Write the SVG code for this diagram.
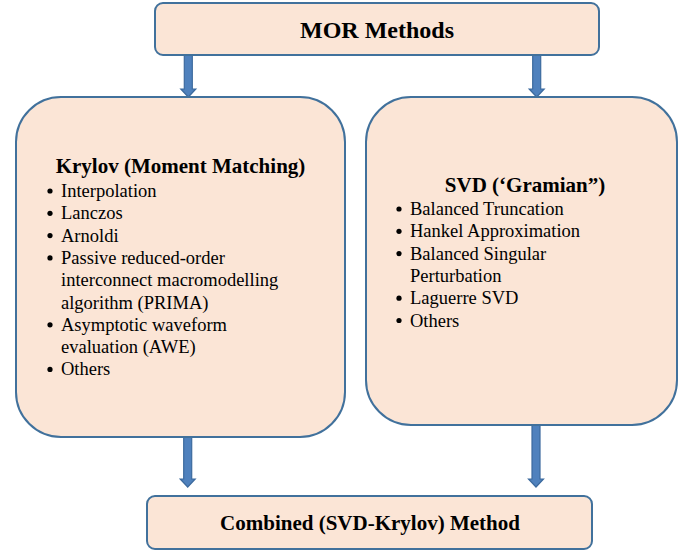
<svg xmlns="http://www.w3.org/2000/svg" width="684" height="552" viewBox="0 0 684 552">
<style>
.box{fill:#fbe5d6;stroke:#41719c;stroke-width:2}
.arr{fill:#4f81bd;stroke:#3c6a9e;stroke-width:1.2;stroke-linejoin:miter}
text{font-family:'Liberation Serif','DejaVu Serif',serif;fill:#000}
.h{font-weight:bold;text-anchor:middle}
.i{font-size:18.5px}
.b{fill:#000}
</style>
<rect width="684" height="552" fill="#fff"/>
<g id="connectors">
<polygon class="arr" points="184.3,55 192.3,55 192.3,89 195.8,89 188.3,97 180.8,89 184.3,89"/>
<polygon class="arr" points="532.7,55 540.7,55 540.7,89 544.2,89 536.7,97 529.2,89 532.7,89"/>
<polygon class="arr" points="183.7,437 191.7,437 191.7,479 195.2,479 187.7,487 180.2,479 183.7,479"/>
<polygon class="arr" points="532,425 540,425 540,479 543.5,479 536,487 528.5,479 532,479"/>
</g>
<g id="mor">
<rect class="box" x="155" y="3" width="444" height="52" rx="8"/>
<text class="h" x="377" y="38" font-size="24" font-family="Liberation Serif, serif">MOR Methods</text>
</g>
<g id="krylov">
<rect class="box" x="16" y="97" width="329" height="340" rx="45"/>
<text class="h" x="180.5" y="173" font-size="21">Krylov (Moment Matching)</text>
<g class="b">
<circle cx="50" cy="191" r="2.6"/>
<circle cx="50" cy="213.3" r="2.6"/>
<circle cx="50" cy="235.6" r="2.6"/>
<circle cx="50" cy="257.9" r="2.6"/>
<circle cx="50" cy="324.8" r="2.6"/>
<circle cx="50" cy="369.4" r="2.6"/>
</g>
<g class="i">
<text x="61" y="197">Interpolation</text>
<text x="61" y="219.3">Lanczos</text>
<text x="61" y="241.6">Arnoldi</text>
<text x="61" y="263.9">Passive reduced-order</text>
<text x="61" y="286.2">interconnect macromodelling</text>
<text x="61" y="308.5">algorithm (PRIMA)</text>
<text x="61" y="330.8">Asymptotic waveform</text>
<text x="61" y="353.1">evaluation (AWE)</text>
<text x="61" y="375.4">Others</text>
</g>
</g>
<g id="svd">
<rect class="box" x="366" y="97" width="311" height="328" rx="45"/>
<text class="h" x="525" y="192" font-size="21">SVD (‘Gramian”)</text>
<g class="b">
<circle cx="399" cy="209" r="2.6"/>
<circle cx="399" cy="231.3" r="2.6"/>
<circle cx="399" cy="253.6" r="2.6"/>
<circle cx="399" cy="298.2" r="2.6"/>
<circle cx="399" cy="320.5" r="2.6"/>
</g>
<g class="i">
<text x="410" y="215">Balanced Truncation</text>
<text x="410" y="237.3">Hankel Approximation</text>
<text x="410" y="259.6">Balanced Singular</text>
<text x="410" y="281.9">Perturbation</text>
<text x="410" y="304.2">Laguerre SVD</text>
<text x="410" y="326.5">Others</text>
</g>
</g>
<g id="combined">
<rect class="box" x="147" y="496" width="445" height="53" rx="8"/>
<text class="h" x="370" y="530" font-size="21">Combined (SVD-Krylov) Method</text>
</g>
</svg>
